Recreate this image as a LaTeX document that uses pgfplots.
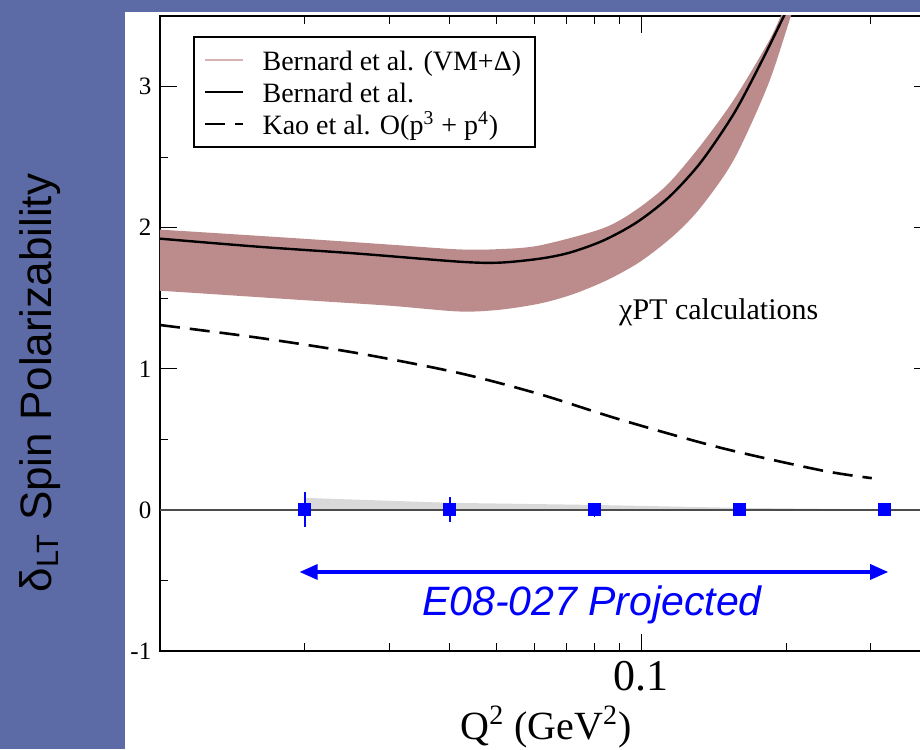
\documentclass[border=0pt]{standalone}
\usepackage{fontspec}
\setmainfont{Liberation Serif}
\newfontfamily\arial{Liberation Sans}
\usepackage{pgfplots}
\pgfplotsset{compat=1.18}
\usetikzlibrary{arrows.meta}

\definecolor{bgblue}{RGB}{92,107,165}
\definecolor{rosy}{RGB}{188,140,140}
\definecolor{rosylight}{RGB}{214,178,178}
\definecolor{sysgray}{RGB}{217,217,217}

% Bernard et al. (VM+Delta): upper edge left to right, then lower edge right to left
\pgfplotstableread{
x       y
0.0090  1.990
0.0100  1.986
0.01936 1.924
0.0300  1.880
0.0418  1.846
0.0507  1.848
0.0615  1.874
0.0829  1.993
0.0971  2.121
0.1133  2.305
0.1328  2.582
0.1558  2.908
0.1835  3.312
0.1953  3.504
0.2069  3.688
0.2151  3.688
0.2049  3.504
0.1835  3.014
0.1558  2.482
0.1328  2.142
0.1167  1.943
0.0995  1.759
0.0849  1.628
0.0721  1.528
0.0615  1.462
0.0507  1.418
0.0418  1.406
0.0300  1.447
0.01936 1.489
0.0100  1.553
0.0090  1.556
}\band
% Bernard et al.: central curve
\pgfplotstableread{
x      y
0.0100 1.922
0.0160 1.865
0.0258 1.816
0.0418 1.759
0.0507 1.752
0.0615 1.780
0.0710 1.823
0.0833 1.908
0.0976 2.035
0.1139 2.213
0.1328 2.461
0.1558 2.809
0.1774 3.170
0.1982 3.504
0.2099 3.674
}\bernard
% Kao et al. O(p^3+p^4)
\pgfplotstableread{
x      y
0.0100 1.31
0.0160 1.22
0.0258 1.11
0.0418 0.97
0.0615 0.82
0.0904 0.64
0.1463 0.44
0.2368 0.28
0.3013 0.225
}\kao

\begin{document}
\begin{tikzpicture}
\fill[bgblue] (0,0) rectangle (460pt,374.5pt);
\fill[white] (62.5pt,0) rectangle (470pt,368.5pt);
\begin{axis}[
  at={(80pt,49pt)}, anchor=south west,
  scale only axis, width=385.5pt, height=317.5pt,
  xmode=log, xmin=0.01, xmax=0.4, ymin=-1, ymax=3.5,
  xtick={0.1}, xticklabels={0.1},
  minor xtick={0.02,0.03,0.04,0.05,0.06,0.07,0.08,0.09,0.2,0.3},
  ytick={-1,0,1,2,3},
  minor ytick={-0.5,0.5,1.5,2.5},
  major tick length=8.5pt, minor tick length=4pt,
  tick style={black, line width=0.6pt},
  axis line style={black, line width=1pt},
  /pgf/number format/assume math mode=true,
  yticklabel style={font=\fontsize{12.5}{14}\selectfont, xshift=-0.8pt},
  xticklabel style={font=\fontsize{22}{26}\selectfont, anchor=base, yshift=-19.5pt},
  ylabel={\arial δ\textsubscript{LT} Spin Polarizability},
  ylabel style={at={(axis description cs:-0.1556,0.422)}, anchor=center, font=\fontsize{22}{26}\selectfont},
  xlabel={Q\textsuperscript{2} (GeV\textsuperscript{2})},
  xlabel style={at={(axis description cs:0.5006,-0.140)}, anchor=base, font=\fontsize{20}{24}\selectfont},
  legend image code/.code={\draw[#1] (0pt,0pt) -- (19pt,0pt);},
  legend style={at={(rel axis cs:0.0428,0.9685)}, anchor=north west, draw=black, line width=1pt,
    font=\fontsize{14}{17}\selectfont, cells={anchor=west},
    inner xsep=5pt, inner ysep=4.5pt, column sep=7pt, row sep=2pt,
    nodes={inner xsep=2pt, inner ysep=0pt, text height=12.5pt, text depth=1.5pt}},
]
% theory band and curves
\addplot[fill=rosy, draw=none, smooth, forget plot] table[x=x,y=y] {\band} -- cycle;
\addplot[black, line width=1.2pt, smooth, forget plot] table[x=x,y=y] {\bernard};
\addplot[black, line width=1.3pt, dash pattern=on 10pt off 5pt, smooth, forget plot] table[x=x,y=y] {\kao};

% projected systematic band
\addplot[fill=sysgray, draw=none, forget plot] coordinates {
  (0.02,0) (0.02,0.085) (0.04,0.05) (0.08,0.035) (0.16,0.014) (0.32,0.003) (0.32,0)} -- cycle;
% zero line
\addplot[black!70, line width=1pt, forget plot] coordinates {(0.01,0) (0.4,0)};
% projected points
\addplot[blue, only marks, mark=square*, mark size=3pt, forget plot,
  error bars/.cd, y dir=both, y explicit, error mark=none,
  error bar style={blue, line width=0.8pt}] coordinates {
  (0.02,0) +- (0,0.124)
  (0.04,0) +- (0,0.089)
  (0.08,0) +- (0,0.05)
  (0.16,0) +- (0,0.03)
  (0.32,0) +- (0,0.03)
};
% kinematic range
\addplot[blue, line width=1.6pt, {Triangle[length=9pt,width=7.5pt]}-{Triangle[length=9pt,width=7.5pt]}, forget plot]
  coordinates {(0.0195,-0.44) (0.326,-0.44)};
\node[blue, font=\arial\itshape\fontsize{20.5}{24}\selectfont, anchor=base] at (axis cs:0.079,-0.75) {E08-027 Projected};
\node[font=\fontsize{15}{17}\selectfont, anchor=base west] at (axis cs:0.087,1.35) {χPT calculations};

\addlegendimage{rosylight, line width=1pt}
\addlegendentry{Bernard et al. (VM+Δ)}
\addlegendimage{black, line width=1.2pt}
\addlegendentry{Bernard et al.}
\addlegendimage{black, line width=1.3pt, dash pattern=on 10pt off 5pt}
\addlegendentry{Kao et al. O(p\textsuperscript{3} + p\textsuperscript{4})}
\end{axis}
\pgfresetboundingbox
\path[use as bounding box] (0,0) rectangle (460pt,374.5pt);
\end{tikzpicture}
\end{document}
